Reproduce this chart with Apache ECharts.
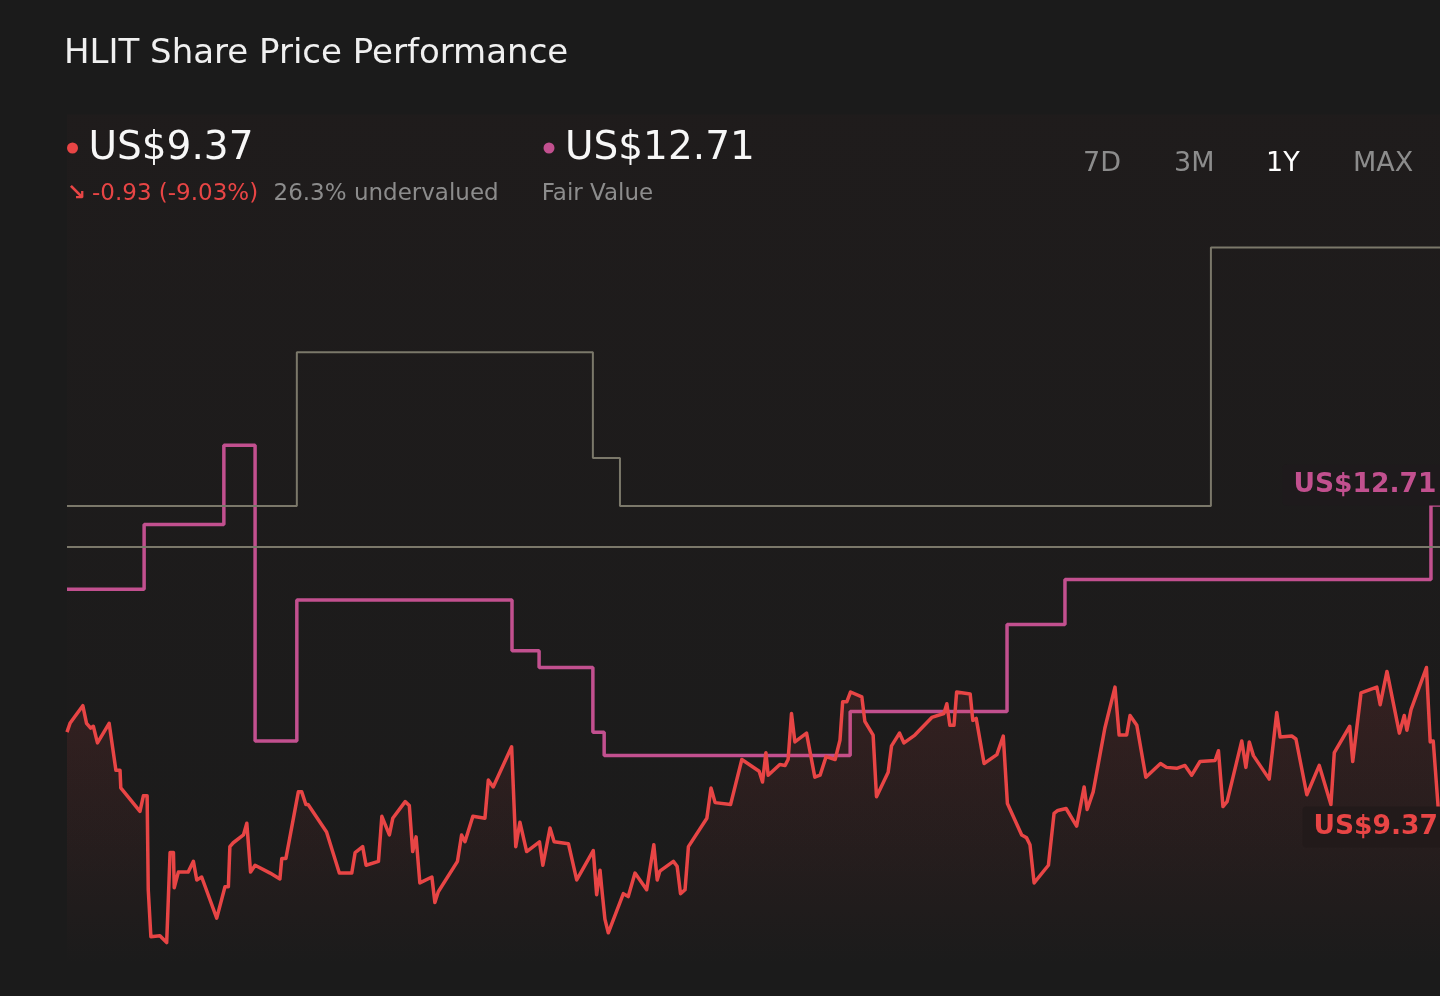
<!DOCTYPE html>
<html>
<head>
<meta charset="utf-8">
<script src="https://cdn.jsdelivr.net/npm/echarts@6/dist/echarts.min.js"></script>
<style>
html,body{margin:0;padding:0;background:#1b1b1b;}
#chart{width:1440px;height:996px;}
</style>
</head>
<body>
<div id="chart"></div>
<script>
// ---- data (day offset within the 1Y window, value in US$) ----
const priceDays = [0,0.8,2.1,4.2,5.2,6.3,7.0,8.1,11.2,13.0,
14.1,14.3,19.4,20.3,21.3,21.6,22.3,24.7,26.5,27.4,
28.3,28.5,29.6,32.2,33.6,34.5,35.8,39.8,42.0,42.9,
43.3,44.2,46.9,47.8,48.8,50.0,54.0,56.6,57.1,58.2,
61.5,62.4,63.5,64.1,69.0,72.4,75.7,76.6,78.6,79.5,
82.8,83.7,85.7,86.6,89.9,91.0,91.9,92.8,93.8,97.0,
97.8,98.7,103.8,104.9,105.8,107.9,111.1,112.0,113.3,118.2,
119.3,120.4,122.2,125.6,126.5,128.4,129.5,133.3,135.5,139.9,
140.8,141.7,142.3,143.0,143.9,147.9,149.2,151.0,154.1,156.0,
156.9,157.6,161.2,162.2,163.1,164.3,165.2,170.1,171.2,172.3,
176.4,179.4,184.0,184.9,185.8,186.4,189.5,190.9,191.7,192.6,
193.5,196.6,198.8,200.2,201.8,204.2,205.5,206.2,207.3,208.3,
211.3,212.1,214.3,215.2,218.3,219.2,221.3,222.5,225.4,229.9,
233.1,233.9,234.7,235.8,236.5,240.1,240.8,241.7,243.8,247.2,
248.9,250.0,253.8,255.1,256.0,257.1,260.9,262.4,263.4,265.6,
268.4,270.4,271.2,272.8,275.9,278.6,279.7,281.7,282.6,284.4,
286.8,290.7,292.3,295.0,297.2,299.0,301.2,305.2,306.1,307.3,
308.4,312.3,313.4,314.3,315.4,319.6,321.6,322.5,325.6,326.7,
329.6,332.9,336.0,336.9,341.0,341.8,344.0,348.2,349.1,350.9,
354.2,355.5,356.2,357.3,361.4,362.4,363.2,365];

const priceValues = [10.39,10.48,10.55,10.66,10.48,10.43,10.45,10.28,10.48,10.00,
10.00,9.82,9.58,9.74,9.74,8.78,8.30,8.31,8.24,9.16,
9.16,8.80,8.96,8.96,9.07,8.88,8.91,8.49,8.81,8.81,
9.22,9.26,9.34,9.46,8.96,9.03,8.95,8.89,9.10,9.10,
9.78,9.78,9.65,9.65,9.37,8.95,8.95,9.16,9.22,9.03,
9.07,9.53,9.34,9.51,9.68,9.64,9.17,9.32,8.85,8.91,
8.65,8.76,9.07,9.34,9.27,9.53,9.51,9.90,9.83,10.24,
9.22,9.47,9.17,9.27,9.03,9.41,9.27,9.25,8.88,9.18,
8.73,8.98,8.74,8.48,8.34,8.74,8.71,8.95,8.78,9.24,
8.88,8.97,9.07,9.02,8.74,8.78,9.22,9.51,9.82,9.67,
9.65,10.11,9.99,9.88,10.18,9.95,10.06,10.05,10.11,10.58,
10.29,10.38,9.93,9.95,10.14,10.11,10.31,10.70,10.70,10.80,
10.75,10.50,10.36,9.73,9.98,10.25,10.38,10.28,10.36,10.54,
10.58,10.68,10.46,10.46,10.80,10.78,10.51,10.53,10.07,10.16,
10.35,9.66,9.34,9.31,9.24,8.85,9.03,9.56,9.59,9.61,
9.43,9.83,9.60,9.78,10.43,10.85,10.36,10.36,10.56,10.46,
9.93,10.07,10.03,10.02,10.05,9.95,10.09,10.10,10.20,9.63,
9.68,10.30,10.03,10.29,10.15,9.91,10.59,10.34,10.35,10.32,
9.75,10.05,9.65,10.18,10.45,10.09,10.79,10.85,10.67,11.01,
10.38,10.56,10.41,10.62,11.05,10.29,10.30,9.37];

const fairValueDays = [0,20.5,41.7,50.0,61.1,118.3,125.5,139.8,142.8,208.2,249.9,265.3,362.6,365];
const fairValues    = [11.85,12.51,13.32,10.30,11.74,11.22,11.05,10.39,10.15,10.60,11.49,11.95,12.71,12.71];

const targetDays   = [0,61.1,139.8,147.0,304.1,365];
const targetValues = [12.70,14.27,13.19,12.70,15.34,15.34];

const refLineDays   = [0,365];
const refLineValues = [12.28,12.28];

const lastPrice = 9.37;
const fairValueNow = 12.71;
const rangeButtons = ['7D','3M','1Y','MAX'];
const activeRange = '1Y';

// ---- build ----
const zip = (a,b) => a.map((d,i) => [d,b[i]]);
const FONT = '"DejaVu Sans", sans-serif';
const RED = '#e84545', PINK = '#c2508f', GRAY = '#7b786a';

const chart = echarts.init(document.getElementById('chart'), null, {renderer:'canvas'});

const btnX = [1083,1174,1266,1353];
const graphics = [
  {type:'text', x:64, y:54, style:{text:'HLIT Share Price Performance', fill:'#f0f0f0', font:'34px '+FONT, verticalAlign:'middle'}},
  {type:'circle', shape:{cx:72.5, cy:148, r:5.5}, style:{fill:RED}},
  {type:'text', x:88.5, y:149, style:{text:'US$'+lastPrice.toFixed(2), fill:'#f7f7f7', font:'39px '+FONT, verticalAlign:'middle'}},
  {type:'text', x:67, y:194, style:{text:'\u2198', fill:RED, font:'bold 23px '+FONT, verticalAlign:'middle'}},
  {type:'text', x:92, y:194, style:{text:'-0.93 (-9.03%)', fill:RED, font:'23px '+FONT, verticalAlign:'middle'}},
  {type:'text', x:273.5, y:194, style:{text:'26.3% undervalued', fill:'#8c8c8c', font:'23px '+FONT, verticalAlign:'middle'}},
  {type:'circle', shape:{cx:549, cy:148, r:5.5}, style:{fill:PINK}},
  {type:'text', x:565, y:149, style:{text:'US$'+fairValueNow.toFixed(2), fill:'#f7f7f7', font:'39px '+FONT, verticalAlign:'middle'}},
  {type:'text', x:541.7, y:194, style:{text:'Fair Value', fill:'#8c8c8c', font:'23px '+FONT, verticalAlign:'middle'}}
];
rangeButtons.forEach((b,i) => {
  graphics.push({type:'text', x:btnX[i], y:163.5, style:{text:b, fill: b===activeRange ? '#ffffff' : '#8c8c8c', font:'27px '+FONT, verticalAlign:'middle'}});
});

const option = {
  backgroundColor:'#1b1b1b',
  animation:false,
  grid:{left:67, right:0, top:114.4, bottom:29.9, show:true, borderWidth:0,
    backgroundColor:{type:'linear', x:0, y:0, x2:0, y2:1, colorStops:[
      {offset:0, color:'rgba(232,69,69,0.018)'},{offset:1, color:'rgba(232,69,69,0.0)'}]}},
  xAxis:{type:'value', min:0, max:365, show:false},
  yAxis:{type:'value', min:8, max:16.7, show:false, splitLine:{show:false}},
  graphic: graphics,
  series:[
    {type:'line', name:'Reference', data: zip(refLineDays, refLineValues), symbol:'none', silent:true,
      lineStyle:{color:GRAY, width:2}, z:3},
    {type:'line', name:'Fair Value', data: zip(fairValueDays, fairValues), step:'end', symbol:'none',
      lineStyle:{color:PINK, width:3.5}, z:2,
      markPoint:{symbol:'circle', symbolSize:1, itemStyle:{color:'rgba(0,0,0,0)'},
        data:[{coord:[365, fairValueNow], value:fairValueNow}],
        label:{show:true, formatter:'US$'+fairValueNow.toFixed(2), position:[-157,-40], align:'left', verticalAlign:'top',
          color:PINK, fontFamily:FONT, fontWeight:'bold', fontSize:26.5, lineHeight:27,
          backgroundColor:'#1e1a1c', borderRadius:4, padding:[7,11]}}},
    {type:'line', name:'Target', data: zip(targetDays, targetValues), step:'end', symbol:'none',
      lineStyle:{color:GRAY, width:2}, z:3},
    {type:'line', name:'Price', data: zip(priceDays, priceValues), symbol:'none',
      lineStyle:{color:RED, width:3.5, join:'round'}, z:4,
      areaStyle:{origin:'start', color:{type:'linear', x:0, y:0, x2:0, y2:1, colorStops:[
        {offset:0, color:'rgba(232,69,69,0.18)'},{offset:1, color:'rgba(232,69,69,0)'}]}},
      markPoint:{symbol:'circle', symbolSize:1, itemStyle:{color:'rgba(0,0,0,0)'},
        data:[{coord:[365, lastPrice], value:lastPrice}],
        label:{show:true, formatter:'US$'+lastPrice.toFixed(2), position:[-137,-25], align:'left', verticalAlign:'top',
          color:RED, fontFamily:FONT, fontWeight:'bold', fontSize:26.5, lineHeight:27,
          backgroundColor:'#221a1a', borderRadius:4, padding:[7,11]}}}
  ]
};
chart.setOption(option);
</script>
</body>
</html>
